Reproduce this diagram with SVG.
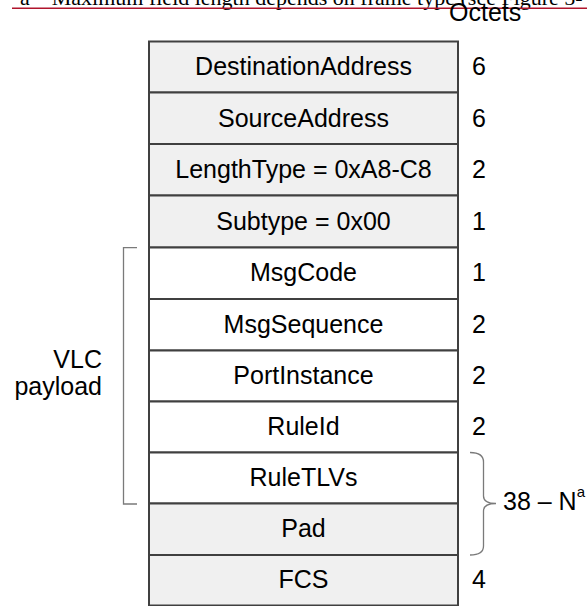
<svg xmlns="http://www.w3.org/2000/svg" width="587" height="606" viewBox="0 0 587 606">
<style>
.cell{stroke:#404040;stroke-width:2}
.g{fill:#f0f0f0}
.w{fill:#ffffff}
.lbl{font-family:"Liberation Sans",Arial,sans-serif;font-size:25px;fill:#000;text-anchor:middle}
.num{font-family:"Liberation Sans",Arial,sans-serif;font-size:25px;fill:#000}
.br{fill:none;stroke:#7a7a7a;stroke-width:1.3}
</style>
<rect width="587" height="606" fill="#fff"/>
<g id="footnote">
<text x="20" y="5" font-family="Liberation Serif,Times New Roman,serif" font-size="22" fill="#000">a – Maximum field length depends on frame type (see Figure 5-</text>
<line x1="12" y1="8.3" x2="587" y2="8.3" stroke="#b0142c" stroke-width="1.6"/>
</g>
<text id="octets" x="449" y="21" class="num" font-size="24">Octets</text>
<g id="DestinationAddress"><rect class="cell g" x="149" y="41.5" width="309" height="51"/><text class="lbl" x="303.5" y="75.3">DestinationAddress</text><text class="num" x="472" y="75.3">6</text></g>
<g id="SourceAddress"><rect class="cell g" x="149" y="92.5" width="309" height="51.5"/><text class="lbl" x="303.5" y="126.6">SourceAddress</text><text class="num" x="472" y="126.6">6</text></g>
<g id="LengthType"><rect class="cell g" x="149" y="144" width="309" height="51.5"/><text class="lbl" x="303.5" y="178">LengthType = 0xA8-C8</text><text class="num" x="472" y="178">2</text></g>
<g id="Subtype"><rect class="cell g" x="149" y="195.5" width="309" height="52"/><text class="lbl" x="303.5" y="229.8">Subtype = 0x00</text><text class="num" x="472" y="229.8">1</text></g>
<g id="MsgCode"><rect class="cell w" x="149" y="247.5" width="309" height="51.5"/><text class="lbl" x="303.5" y="281.3">MsgCode</text><text class="num" x="472" y="281.3">1</text></g>
<g id="MsgSequence"><rect class="cell w" x="149" y="299" width="309" height="51.5"/><text class="lbl" x="303.5" y="332.8">MsgSequence</text><text class="num" x="472" y="332.8">2</text></g>
<g id="PortInstance"><rect class="cell w" x="149" y="350.5" width="309" height="51"/><text class="lbl" x="303.5" y="384.1">PortInstance</text><text class="num" x="472" y="384.1">2</text></g>
<g id="RuleId"><rect class="cell w" x="149" y="401.5" width="309" height="51"/><text class="lbl" x="303.5" y="435.1">RuleId</text><text class="num" x="472" y="435.1">2</text></g>
<g id="RuleTLVs"><rect class="cell w" x="149" y="452.5" width="309" height="51"/><text class="lbl" x="303.5" y="486.1">RuleTLVs</text></g>
<g id="Pad"><rect class="cell g" x="149" y="503.5" width="309" height="51.5"/><text class="lbl" x="303.5" y="537.3">Pad</text></g>
<g id="FCS"><rect class="cell g" x="149" y="555" width="309" height="50.5"/><text class="lbl" x="303.5" y="588.3">FCS</text><text class="num" x="472" y="588.3">4</text></g>
<g id="brackets">
<path class="br" d="M137 247.7 H123.5 V504 H137"/>
<path class="br" d="M470 452.5 Q483.5 452.5 483.5 462 V496 Q483.5 503.5 496 503.5 Q483.5 503.5 483.5 511 V546 Q483.5 555 470 555"/>
</g>
<g id="vlc-label">
<text class="num" text-anchor="end" x="102" y="368">VLC</text>
<text class="num" text-anchor="end" x="102" y="395">payload</text>
</g>
<g id="size-label">
<text class="num" x="503" y="510" font-size="24.5">38 – N<tspan font-size="15" dy="-13">a</tspan></text>
</g>
</svg>
